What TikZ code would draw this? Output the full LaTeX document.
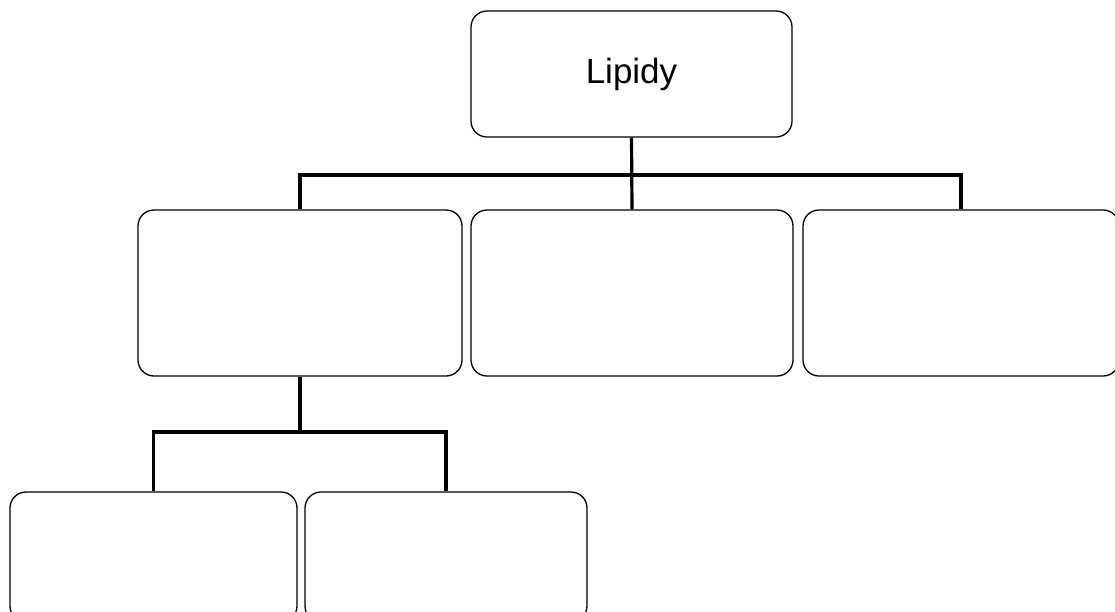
\documentclass[tikz,border=0pt]{standalone}
\usepackage{fontspec}
\setmainfont{Liberation Sans}
\usetikzlibrary{positioning,calc}

\begin{document}
\begin{tikzpicture}[
    x=1pt, y=-1pt,
    box/.style={draw, rounded corners=16pt, line width=1.3pt, inner sep=0pt},
    conn/.style={line width=3.2pt}
]
    \useasboundingbox (0,0) rectangle (1115,611);
    \clip (0,0) rectangle (1115,611);

    % top level
    \node[box, minimum width=321pt, minimum height=126pt, font=\fontsize{35}{40}\selectfont]
        (lipidy) at (631.5,74) {Lipidy};

    % second level
    \node[box, minimum width=324pt, minimum height=166pt] (ml) at (300,293) {};
    \node[box, minimum width=322pt, minimum height=166pt] (mm) at (632,293) {};
    \node[box, minimum width=316pt, minimum height=166pt] (mr) at (961,293) {};

    % third level (runs off the bottom)
    \node[box, minimum width=287pt, minimum height=130pt] (bl) at (153.5,557) {};
    \node[box, minimum width=282pt, minimum height=130pt] (br) at (446,557) {};

    \coordinate (bar1) at (0,175);
    \coordinate (bar2) at (0,432);

    \draw[conn] (lipidy.south) -- (mm.north);
    \draw[conn] (ml.north) |- (bar1 -| mr.north) -- (mr.north);
    \draw[conn] (ml.south) -- (ml.south |- bar2);
    \draw[conn] (bl.north) |- (bar2 -| br.north) -- (br.north);
\end{tikzpicture}
\end{document}
